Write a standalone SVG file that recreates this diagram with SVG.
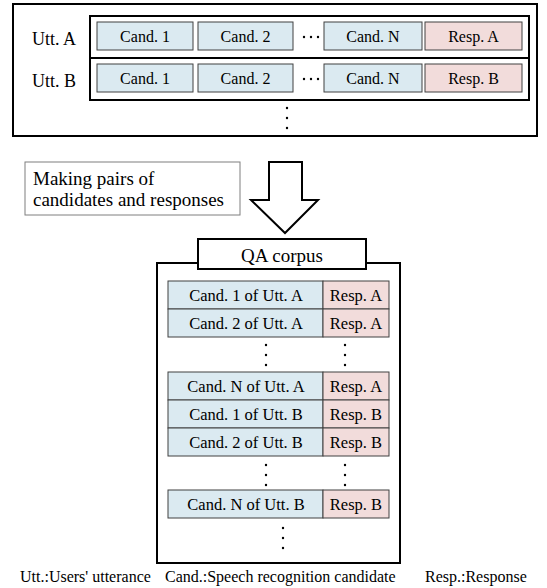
<svg xmlns="http://www.w3.org/2000/svg" width="547" height="588" viewBox="0 0 547 588">
  <style>
    text { font-family: "Liberation Serif", "Times New Roman", serif; fill: #000; }
    .frame { fill: #fff; stroke: #000; stroke-width: 2; }
    .cand { fill: #dbeaf1; stroke: #404040; stroke-width: 1; }
    .resp { fill: #f2dcdb; stroke: #404040; stroke-width: 1; }
    .cell { font-size: 16px; text-anchor: middle; }
    .row { font-size: 16.5px; text-anchor: middle; }
    .utt { font-size: 18px; }
    .dot { fill: #000; }
  </style>

  <rect width="547" height="588" fill="#fff"/>

  <!-- Utterance list with candidates and responses -->
  <g id="utterances">
    <rect class="frame" x="13" y="4" width="524" height="132"/>
    <rect class="frame" x="90" y="16" width="439" height="84"/>
    <line x1="90" y1="58" x2="529" y2="58" stroke="#000" stroke-width="2"/>
    <text class="utt" x="32" y="45">Utt. A</text>
    <text class="utt" x="32" y="87">Utt. B</text>
  </g>

  <g id="row-a">
    <rect class="cand" x="97" y="22" width="96" height="28"/>
    <text class="cell" x="145" y="42">Cand. 1</text>
    <rect class="cand" x="198" y="22" width="95" height="28"/>
    <text class="cell" x="245.5" y="42">Cand. 2</text>
    <circle class="dot" cx="304" cy="37" r="1.2"/>
    <circle class="dot" cx="311" cy="37" r="1.2"/>
    <circle class="dot" cx="318" cy="37" r="1.2"/>
    <rect class="cand" x="324" y="22" width="98" height="28"/>
    <text class="cell" x="373" y="42">Cand. N</text>
    <rect class="resp" x="425" y="22" width="97" height="28"/>
    <text class="cell" x="473.5" y="42">Resp. A</text>
  </g>

  <g id="row-b">
    <rect class="cand" x="97" y="64" width="96" height="28"/>
    <text class="cell" x="145" y="84">Cand. 1</text>
    <rect class="cand" x="198" y="64" width="95" height="28"/>
    <text class="cell" x="245.5" y="84">Cand. 2</text>
    <circle class="dot" cx="304" cy="79" r="1.2"/>
    <circle class="dot" cx="311" cy="79" r="1.2"/>
    <circle class="dot" cx="318" cy="79" r="1.2"/>
    <rect class="cand" x="324" y="64" width="98" height="28"/>
    <text class="cell" x="373" y="84">Cand. N</text>
    <rect class="resp" x="425" y="64" width="97" height="28"/>
    <text class="cell" x="473.5" y="84">Resp. B</text>
  </g>

  <g id="more-utterances">
    <circle class="dot" cx="287" cy="108" r="1.2"/>
    <circle class="dot" cx="287" cy="118" r="1.2"/>
    <circle class="dot" cx="287" cy="128" r="1.2"/>
  </g>

  <!-- Step caption and block arrow -->
  <g id="step-label">
    <rect x="25" y="162" width="215" height="53" fill="#fff" stroke="#7f7f7f" stroke-width="1"/>
    <text x="33" y="185" font-size="19">Making pairs of</text>
    <text x="33" y="206" font-size="19">candidates and responses</text>
  </g>

  <g id="connectors">
    <polygon points="269,162 302,162 302,200 318,200 285,233 251,200 269,200" fill="#fff" stroke="#000" stroke-width="2" stroke-linejoin="miter"/>
  </g>

  <!-- QA corpus -->
  <g id="qa-corpus">
    <rect class="frame" x="157" y="263" width="243" height="300"/>
    <rect class="frame" x="198" y="239" width="168" height="30"/>
    <text x="282" y="262" font-size="19" text-anchor="middle">QA corpus</text>
  </g>

  <g id="pairs-a">
    <rect class="cand" x="168" y="281" width="155" height="28"/>
    <rect class="resp" x="323" y="281" width="66" height="28"/>
    <text class="row" x="246" y="301">Cand. 1 of Utt. A</text>
    <text class="row" x="356" y="301">Resp. A</text>
    <rect class="cand" x="168" y="309" width="155" height="28"/>
    <rect class="resp" x="323" y="309" width="66" height="28"/>
    <text class="row" x="246" y="329">Cand. 2 of Utt. A</text>
    <text class="row" x="356" y="329">Resp. A</text>
    <circle class="dot" cx="266" cy="345" r="1.2"/>
    <circle class="dot" cx="266" cy="355" r="1.2"/>
    <circle class="dot" cx="266" cy="365" r="1.2"/>
    <circle class="dot" cx="345" cy="345" r="1.2"/>
    <circle class="dot" cx="345" cy="355" r="1.2"/>
    <circle class="dot" cx="345" cy="365" r="1.2"/>
    <rect class="cand" x="168" y="372" width="155" height="28"/>
    <rect class="resp" x="323" y="372" width="66" height="28"/>
    <text class="row" x="246" y="392">Cand. N of Utt. A</text>
    <text class="row" x="356" y="392">Resp. A</text>
  </g>

  <g id="pairs-b">
    <rect class="cand" x="168" y="400" width="155" height="28"/>
    <rect class="resp" x="323" y="400" width="66" height="28"/>
    <text class="row" x="246" y="420">Cand. 1 of Utt. B</text>
    <text class="row" x="356" y="420">Resp. B</text>
    <rect class="cand" x="168" y="428" width="155" height="28"/>
    <rect class="resp" x="323" y="428" width="66" height="28"/>
    <text class="row" x="246" y="448">Cand. 2 of Utt. B</text>
    <text class="row" x="356" y="448">Resp. B</text>
    <circle class="dot" cx="266" cy="465" r="1.2"/>
    <circle class="dot" cx="266" cy="475" r="1.2"/>
    <circle class="dot" cx="266" cy="485" r="1.2"/>
    <circle class="dot" cx="345" cy="465" r="1.2"/>
    <circle class="dot" cx="345" cy="475" r="1.2"/>
    <circle class="dot" cx="345" cy="485" r="1.2"/>
    <rect class="cand" x="168" y="490" width="155" height="28"/>
    <rect class="resp" x="323" y="490" width="66" height="28"/>
    <text class="row" x="246" y="510">Cand. N of Utt. B</text>
    <text class="row" x="356" y="510">Resp. B</text>
  </g>

  <g id="more-pairs">
    <circle class="dot" cx="283" cy="528" r="1.2"/>
    <circle class="dot" cx="283" cy="538" r="1.2"/>
    <circle class="dot" cx="283" cy="548" r="1.2"/>
  </g>

  <!-- Abbreviation legend -->
  <g id="legend" font-size="16">
    <text x="20" y="582">Utt.:Users' utterance</text>
    <text x="165" y="582">Cand.:Speech recognition candidate</text>
    <text x="425" y="582">Resp.:Response</text>
  </g>
</svg>
